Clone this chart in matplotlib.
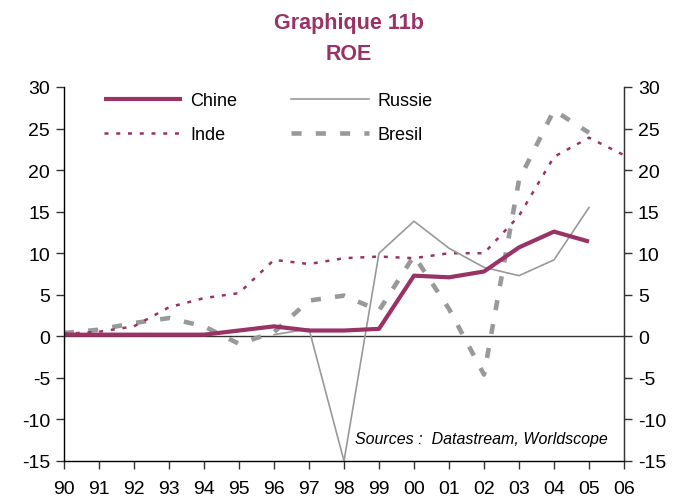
import numpy as np
import matplotlib
matplotlib.use('Agg')
import matplotlib.pyplot as plt

plt.rcParams['font.family'] = ['Liberation Sans', 'DejaVu Sans']
plt.rcParams['axes.unicode_minus'] = False

# years 1990..2006, labels shown as two digits
years = list(range(1990, 2007))
tick_labels = ['90', '91', '92', '93', '94', '95', '96', '97', '98', '99',
               '00', '01', '02', '03', '04', '05', '06']

chine_years = list(range(1990, 2006))
chine = [0.2, 0.2, 0.2, 0.2, 0.2, 0.7, 1.2, 0.7, 0.7, 0.9,
         7.3, 7.1, 7.8, 10.7, 12.6, 11.4]

russie_years = list(range(1996, 2006))
russie = [0.2, 0.9, -15.0, 10.0, 13.85, 10.6, 8.3, 7.3, 9.2, 15.5]

inde_years = list(range(1990, 2007))
inde = [0.3, 0.55, 1.2, 3.5, 4.6, 5.2, 9.2, 8.7, 9.4, 9.6,
        9.4, 10.0, 10.0, 14.5, 21.6, 23.9, 21.8]

bresil_years = list(range(1990, 2006))
bresil = [0.4, 0.8, 1.6, 2.2, 1.2, -0.9, 0.5, 4.3, 4.9, 3.1,
          9.7, 3.3, -4.6, 18.8, 27.2, 24.5]

maroon = '#993366'
grey = '#999999'

fig = plt.figure(figsize=(6.78, 5.02), dpi=100)
ax = fig.add_axes([64/678, 40/502, 560/678, 374/502])

l_bre, = ax.plot(bresil_years, bresil, color=grey, lw=3.3,
                 dashes=(2.2, 3.1), label='Bresil')
l_ind, = ax.plot(inde_years, inde, color=maroon, lw=1.8,
                 dashes=(1.6, 3.1), label='Inde')
l_rus, = ax.plot(russie_years, russie, color=grey, lw=1.2, label='Russie')
l_chi, = ax.plot(chine_years, chine, color=maroon, lw=3.0,
                 solid_capstyle='butt', label='Chine')

ax.axhline(0, color='#333333', lw=1.0, zorder=1)

ax.set_xlim(1990, 2006)
ax.set_ylim(-15, 30)
ax.set_xticks(years)
ax.set_xticklabels(tick_labels)
ax.set_yticks(np.arange(-15, 31, 5))
ax.tick_params(axis='both', direction='out', labelsize=14, color='#333333',
               width=1.0)
ax.tick_params(axis='y', length=6, pad=4)
ax.tick_params(axis='x', length=6, pad=8)

ax.spines['top'].set_visible(False)
for s in ['left', 'right', 'bottom']:
    ax.spines[s].set_color('#333333')
    ax.spines[s].set_linewidth(1.0)

ax2 = ax.twinx()
ax2.set_ylim(-15, 30)
ax2.set_yticks(np.arange(-15, 31, 5))
ax2.tick_params(axis='y', direction='out', labelsize=14, length=6, pad=4,
                color='#333333', width=1.0)
ax2.spines['top'].set_visible(False)
ax2.spines['right'].set_color('#333333')

leg = ax.legend(handles=[l_chi, l_ind, l_rus, l_bre], ncol=2,
                loc='upper left', bbox_to_anchor=(0.043, 1.03),
                frameon=False, fontsize=13, handlelength=4.3,
                handletextpad=0.45, columnspacing=3.0, labelspacing=0.95)

ax.text(0.971, 0.059, 'Sources :  Datastream, Worldscope', transform=ax.transAxes,
        ha='right', va='center', fontsize=11.5, style='italic')

fig.text(349/678, 1 - 23/502, 'Graphique 11b', ha='center', va='center',
         fontsize=15.5, fontweight='bold', color=maroon)
fig.text(349/678, 1 - 54/502, 'ROE', ha='center', va='center',
         fontsize=15.5, fontweight='bold', color=maroon)

fig.savefig('out.png', dpi=100)
